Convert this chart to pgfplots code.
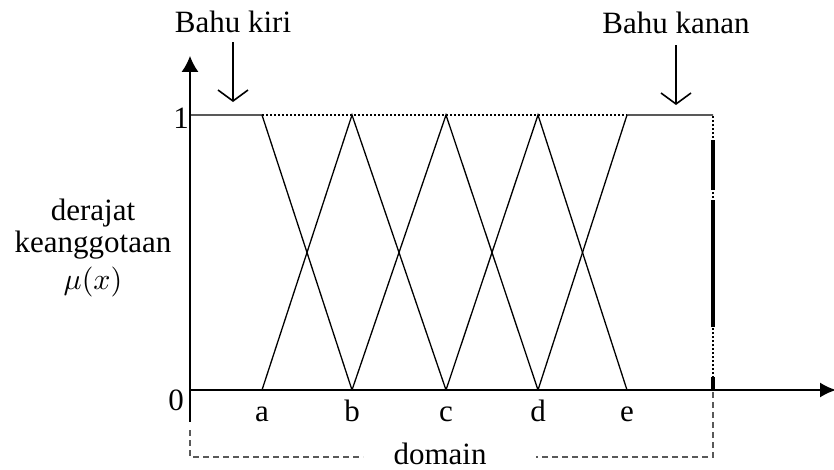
\documentclass[border=0pt]{standalone}
\usepackage{pgfplots}
\pgfplotsset{compat=1.18}
\usepackage{fontspec}
\setmainfont{Liberation Serif}
\usetikzlibrary{arrows.meta}
\newcommand{\bigf}{\fontsize{31}{37}\selectfont}
\begin{document}
\begin{tikzpicture}[x=1pt,y=1pt]
\useasboundingbox (0,0) rectangle (834,-469);
\begin{axis}[
  at={(190pt,-390pt)}, anchor=origin,
  x=1pt, y=275pt,
  xmin=0, xmax=646, ymin=-0.116, ymax=1.215,
  axis lines=middle,
  axis line style={line width=1.8pt},
  x axis line style={-{Latex[length=16pt,width=15pt]}},
  y axis line style={-{Latex[length=16pt,width=17pt]}},
  xtick={72,162,256,348,437},
  xticklabels={a,b,c,d,e},
  xticklabel style={anchor=base, yshift=-31pt, font=\bigf},
  ytick=\empty,
  major tick length=0pt,
  clip=false,
]
\addplot[black, line width=1.3pt] coordinates {(0,1) (72,1) (162,0)};
\addplot[black, line width=1.3pt] coordinates {(72,0) (162,1) (256,0)};
\addplot[black, line width=1.3pt] coordinates {(162,0) (256,1) (348,0)};
\addplot[black, line width=1.3pt] coordinates {(256,0) (348,1) (437,0)};
\addplot[black, line width=1.3pt] coordinates {(348,0) (437,1) (523,1)};
\addplot[black, line width=1.3pt, dash pattern=on 2pt off 2pt] coordinates {(72,1) (437,1)};
\addplot[black, line width=1.8pt, dash pattern=on 2.5pt off 1.5pt] coordinates {(523,0) (523,1)};
\addplot[black, line width=3.6pt] coordinates {(523,0) (523,0.047)};
\addplot[black, line width=3.6pt] coordinates {(523,0.229) (523,0.691)};
\addplot[black, line width=3.6pt] coordinates {(523,0.727) (523,0.909)};
\end{axis}
% domain bracket
\draw[gray!70!black, line width=1.3pt, dash pattern=on 6pt off 4pt] (190,-430) -- (190,-457) -- (363,-457);
\draw[gray!70!black, line width=1.3pt, dash pattern=on 6pt off 4pt] (713,-392) -- (713,-457) -- (536,-457);
% shoulder arrows
\draw[line width=1.6pt, -{Straight Barb[length=11pt,width=30pt]}] (233,-42) -- (233,-102);
\draw[line width=1.6pt, -{Straight Barb[length=11pt,width=30pt]}] (676,-45) -- (676,-105);
% texts
\node[anchor=base, font=\bigf, inner sep=0pt] at (233,-32) {Bahu kiri};
\node[anchor=base, font=\bigf, inner sep=0pt] at (676,-33) {Bahu kanan};
\node[anchor=base, font=\bigf, inner sep=0pt] at (93,-220) {derajat};
\node[anchor=base, font=\bigf, inner sep=0pt] at (93,-252) {keanggotaan};
\node[anchor=base, inner sep=0pt] at (93,-289) {\scalebox{3}{$\mu(x)$}};
\node[anchor=base, font=\bigf, inner sep=0pt] at (181,-128) {1};
\node[anchor=base, font=\bigf, inner sep=0pt] at (176,-410) {0};
\node[anchor=base, font=\bigf, inner sep=0pt] at (440,-464) {domain};
\end{tikzpicture}
\end{document}
